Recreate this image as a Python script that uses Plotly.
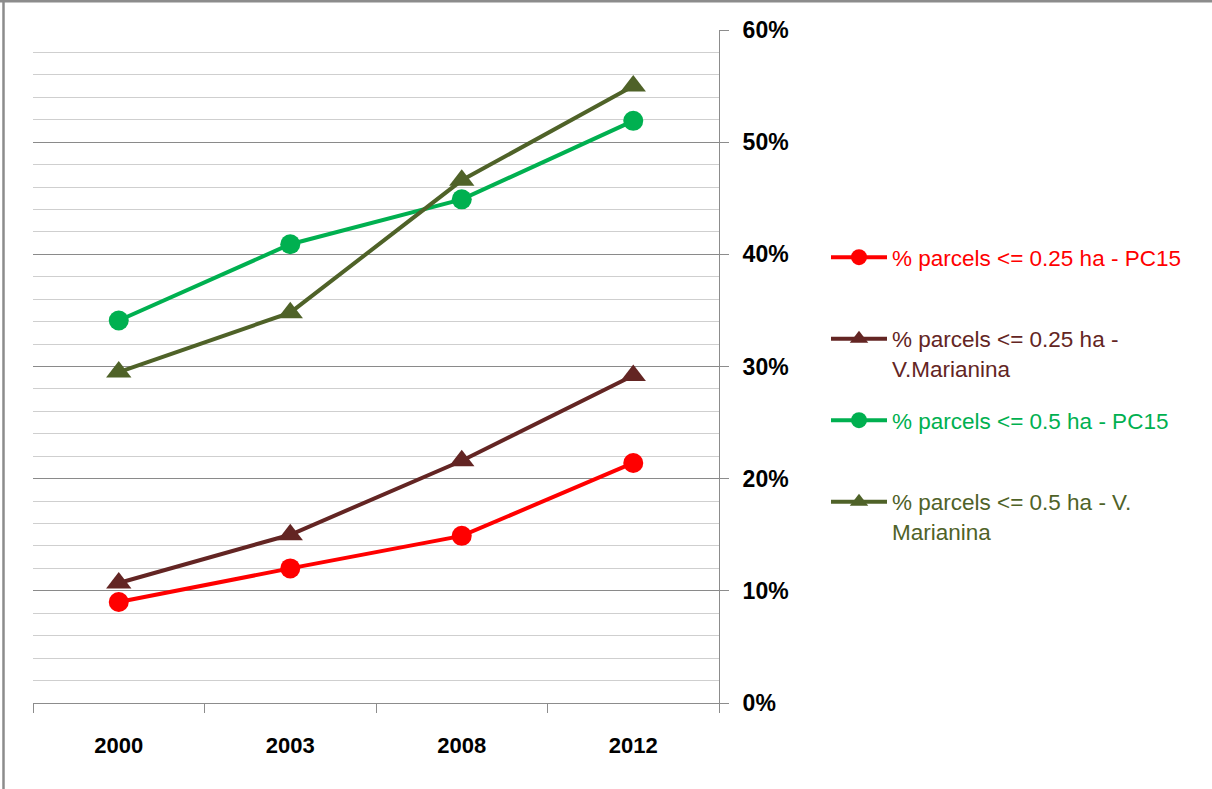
import plotly.graph_objects as go

years = ["2000", "2003", "2008", "2012"]
pc15_025 = [0.090, 0.120, 0.149, 0.214]
vm_025 = [0.107, 0.150, 0.216, 0.292]
pc15_05 = [0.341, 0.409, 0.449, 0.519]
vm_05 = [0.295, 0.348, 0.466, 0.550]

names = [
    "% parcels <= 0.25 ha - PC15",
    "% parcels <= 0.25 ha -<br>V.Marianina",
    "% parcels <= 0.5 ha - PC15",
    "% parcels <= 0.5 ha - V.<br>Marianina",
]
colors = ["#FF0000", "#632523", "#00B050", "#4F6228"]
symbols = ["circle", "triangle-up", "circle", "triangle-up"]
series = [pc15_025, vm_025, pc15_05, vm_05]

W, H = 1212, 789
L, R, T, B = 33, 493, 30, 86
FONT = "Liberation Sans, Arial, sans-serif"

fig = go.Figure()
for i, (vals, nm, c, s) in enumerate(zip(series, names, colors, symbols)):
    label = nm if "<br>" in nm else nm + "<br> "
    fig.add_trace(go.Scatter(
        x=years, y=vals, mode="lines+markers",
        name=f"<span style='color:{c}'>{label}</span>",
        line=dict(color=c, width=4),
        marker=dict(symbol=s, size=20 if s == "circle" else 22, color=c),
        legendgroup=str(i),
    ))

pw = W - L - R
ph = H - T - B
gray = "#8C8C8C"
# outer frame (left and top edges visible)
fig.add_shape(type="line", xref="paper", yref="paper",
              x0=(3.5 - L) / pw, x1=(3.5 - L) / pw, y0=(H - B - H) / ph, y1=(H - B) / ph,
              line=dict(color=gray, width=2.5))
fig.add_shape(type="line", xref="paper", yref="paper",
              x0=(0 - L) / pw, x1=(W - L) / pw, y0=(H - B - 1) / ph, y1=(H - B - 1) / ph,
              line=dict(color=gray, width=3))

fig.update_layout(
    width=W, height=H,
    margin=dict(l=L, r=R, t=T, b=B),
    paper_bgcolor="white", plot_bgcolor="white",
    font=dict(family=FONT, size=22, color="black"),
    showlegend=True,
    legend=dict(
        x=(826 - L) / pw, y=(H - B - 236) / ph, xanchor="left", yanchor="top",
        font=dict(size=22.5, family=FONT),
        valign="top", itemwidth=56, tracegroupgap=20,
        bgcolor="rgba(0,0,0,0)",
    ),
    xaxis=dict(
        type="category", range=[-0.5, 3.5], tickson="boundaries",
        showgrid=False, showline=True, linecolor=gray, linewidth=1,
        ticks="outside", ticklen=9, tickcolor=gray,
        tickfont=dict(size=22, family=FONT, weight="bold"),
        ticklabelstandoff=23, fixedrange=True,
    ),
    yaxis=dict(
        side="right", range=[0, 0.6], dtick=0.1, tickformat=".0%",
        showgrid=True, gridcolor="#8A8A8A", gridwidth=1,
        showline=True, linecolor=gray, linewidth=1,
        ticks="outside", ticklen=9, tickcolor=gray,
        tickfont=dict(size=23, family=FONT, weight="bold"),
        ticklabelstandoff=9, zeroline=False,
        minor=dict(dtick=0.02, showgrid=True, gridcolor="#CFCFCF", gridwidth=1, ticks=""),
    ),
)

fig.write_html("out.html", config={"displayModeBar": False},
               post_script="document.body.style.margin='0';document.body.style.padding='0';")
